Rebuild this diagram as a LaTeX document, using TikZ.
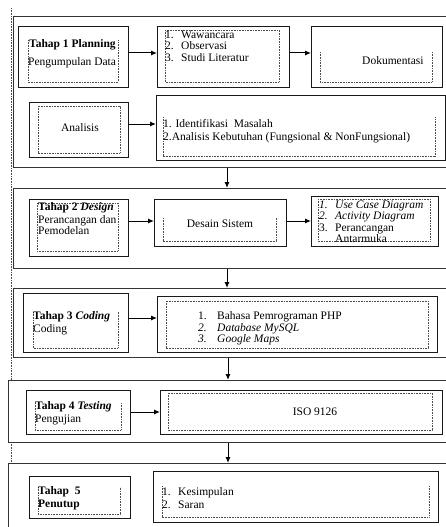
\documentclass[tikz,border=0pt]{standalone}
\usepackage{fontspec}
\setmainfont{Liberation Serif}
\usetikzlibrary{arrows.meta}
\begin{document}
\begin{tikzpicture}[x=1pt,y=-1pt,
  outer/.style={draw=black!80,line width=0.9pt,inner sep=0pt,anchor=north west},
  box/.style={draw=black!90,line width=1.2pt,inner sep=0pt,anchor=north west},
  dots/.style={draw=black!70,line width=0.9pt,dash pattern=on 0.8pt off 0.8pt},
  arr/.style={line width=1pt,-{Latex[length=6pt,width=5pt]}},
  txt/.style={inner sep=0pt,anchor=base west,font=\fontsize{11.5}{12}\selectfont},
  ctxt/.style={inner sep=0pt,anchor=base,font=\fontsize{11.5}{12}\selectfont}]
\useasboundingbox (0,0) rectangle (446,527);
\fill[white] (0,0) rectangle (446,527);
% left dotted guide
\draw[dots] (11.5,8) -- (11.5,380);
\draw[dots] (11.5,442) -- (11.5,463);
% ---------- Stage 1 ----------
\node[outer,minimum width=435,minimum height=151] (s1) at (13,16) {};
\node[box,minimum width=110,minimum height=61] (t1) at (18,26) {};
\draw[dots] (28,40) -- (28,82) -- (118,82) -- (118,40);
\node[txt] (t1a) at (29,48) {\bfseries Tahap 1 Planning};
\node[txt] (t1b) at (28,66) {Pengumpulan Data};
\node[box,minimum width=132,minimum height=61] (l1) at (157,26) {};
\draw[dots] (165,30) rectangle (279,82);
\node[txt] (l1a) at (165,38) {1.};
\node[txt] (l1b) at (165,49) {2.};
\node[txt] (l1c) at (165,61) {3.};
\node[txt] (l1d) at (181,38) {Wawancara};
\node[txt] (l1e) at (181,49) {Observasi};
\node[txt] (l1f) at (181,61) {Studi Literatur};
\node[box,minimum width=131,minimum height=61] (d1) at (311,26) {};
\draw[dots] (320,52) -- (320,82) -- (432,82) -- (432,52);
\node[txt] (d1a) at (362,64) {Dokumentasi};
\node[box,minimum width=99,minimum height=55] (a1) at (29,102) {};
\draw[dots] (38,106) rectangle (120,153);
\node[ctxt] (a1a) at (80,131) {Analisis};
\node[box,minimum width=289,minimum height=65] (al) at (156,95) {};
\draw[dots] (163,117) -- (163,156) -- (435,156) -- (435,117);
\node[txt] (ala) at (163,127) {1. Identifikasi\ \ Masalah};
\node[txt] (alb) at (163,140) {2.Analisis Kebutuhan (Fungsional \& NonFungsional)};
\draw[arr] (t1.east |- 0,53) -- (l1.west |- 0,53);
\draw[arr] (l1.east |- 0,53) -- (d1.west |- 0,53);
\draw[arr] (a1.east |- 0,124) -- (al.west |- 0,124);
% ---------- Stage 2 ----------
\node[outer,minimum width=435,minimum height=80] (s2) at (13,188) {};
\node[box,minimum width=99,minimum height=57] (t2) at (29,199) {};
\draw[dots] (37,203) rectangle (118,251);
\node[txt] (t2a) at (38,210) {\bfseries Tahap 2 \itshape Design};
\node[txt] (t2b) at (38,223) {Perancangan dan};
\node[txt] (t2c) at (38,234) {Pemodelan};
\node[box,minimum width=132,minimum height=47] (ds) at (154,199) {};
\draw[dots] (163,218) -- (163,241) -- (276,241) -- (276,218);
\node[ctxt] (dsa) at (220,227) {Desain Sistem};
\node[box,minimum width=127,minimum height=50] (uc) at (311,196) {};
\draw[dots] (318,199) rectangle (430,241);
\node[txt] (uca) at (319,208) {\itshape 1.};
\node[txt] (ucb) at (319,219) {\itshape 2.};
\node[txt] (ucc) at (319,231) {3.};
\node[txt] (ucd) at (335,208) {\itshape Use Case Diagram};
\node[txt] (uce) at (335,219) {\itshape Activity Diagram};
\node[txt] (ucf) at (335,231) {Perancangan};
\begin{scope}
\clip (318,199) rectangle (430,242);
\node[txt] (ucg) at (335,242) {Antarmuka};
\end{scope}
\draw[arr] (t2.east |- 0,221) -- (ds.west |- 0,221);
\draw[arr] (ds.east |- 0,221) -- (uc.west |- 0,221);
% ---------- Stage 3 ----------
\node[outer,minimum width=435,minimum height=69] (s3) at (13,288) {};
\node[box,minimum width=105,minimum height=59] (t3) at (23,293) {};
\draw[dots] (33,312) -- (33,348) -- (118,348) -- (118,312);
\node[txt] (t3a) at (33,319) {\bfseries Tahap 3 \itshape Coding};
\node[txt] (t3b) at (33,332) {Coding};
\node[box,minimum width=280,minimum height=56] (c3) at (157,296) {};
\draw[dots] (166,301) rectangle (428,348);
\node[txt] (c3a) at (198,319) {1.};
\node[txt] (c3b) at (198,331) {\itshape 2.};
\node[txt] (c3c) at (198,342) {\itshape 3.};
\node[txt] (c3d) at (217,319) {Bahasa Pemrograman PHP};
\node[txt] (c3e) at (217,331) {\itshape Database MySQL};
\node[txt] (c3f) at (217,342) {\itshape Google Maps};
\draw[arr] (t3.east |- 0,318) -- (c3.west |- 0,318);
% ---------- Stage 4 ----------
\node[outer,minimum width=440,minimum height=62] (s4) at (8,380) {};
\node[box,minimum width=104,minimum height=44] (t4) at (26,390) {};
\draw[dots] (35,403) -- (35,430) -- (121,430) -- (121,403);
\node[txt] (t4a) at (35,409) {\bfseries Tahap 4 \itshape Testing};
\node[txt] (t4b) at (35,422) {Pengujian};
\node[box,minimum width=282,minimum height=44] (iso) at (160,390) {};
\draw[dots] (168,393) rectangle (432,430);
\node[ctxt] (isoa) at (315,415) {ISO 9126};
\draw[arr] (t4.east |- 0,412) -- (iso.west |- 0,412);
% ---------- Stage 5 ----------
\node[outer,minimum width=440,minimum height=67] (s5) at (8,463) {};
\node[box,minimum width=101,minimum height=42] (t5) at (29,476) {};
\draw[dots] (38,487) -- (38,514) -- (120,514) -- (120,487);
\node[txt] (t5a) at (38,494) {\bfseries Tahap\ \ 5};
\node[txt] (t5b) at (38,507) {\bfseries Penutup};
\node[box,minimum width=285,minimum height=51] (k5) at (153,471) {};
\draw[dots] (162,486) -- (162,517) -- (429,517) -- (429,486);
\node[txt] (k5a) at (162,495) {1.};
\node[txt] (k5b) at (162,508) {2.};
\node[txt] (k5c) at (178,495) {Kesimpulan};
\node[txt] (k5d) at (178,508) {Saran};
% ---------- stage connectors ----------
\draw[arr] (s1.south -| 227,0) -- (s2.north -| 227,0);
\draw[arr] (s2.south -| 227,0) -- (s3.north -| 227,0);
\draw[arr] (s3.south -| 228,0) -- (s4.north -| 228,0);
\draw[arr] (s4.south -| 228,0) -- (s5.north -| 228,0);
\end{tikzpicture}
\end{document}
